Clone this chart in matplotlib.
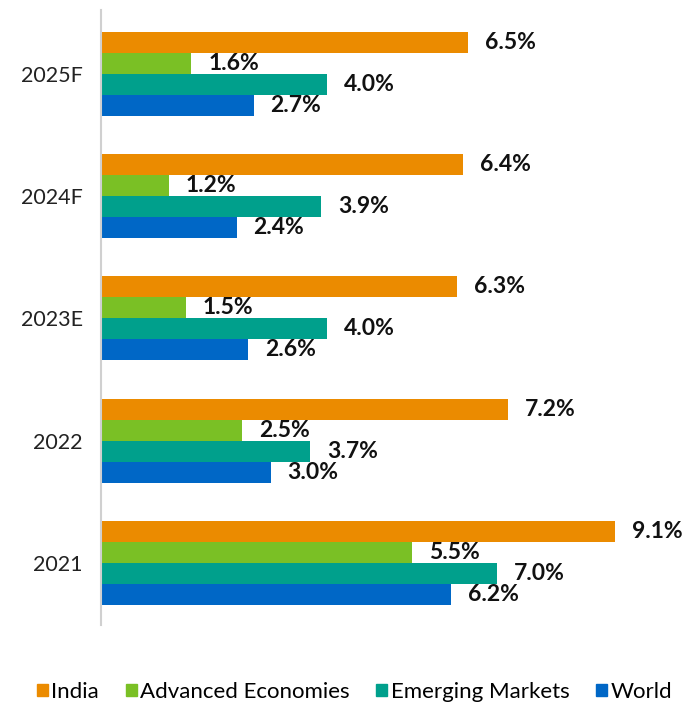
import matplotlib
matplotlib.use("Agg")
import matplotlib.pyplot as plt
import numpy as np
from matplotlib.patches import Patch

categories = ["2021", "2022", "2023E", "2024F", "2025F"]
series_names = ["India", "Advanced Economies", "Emerging Markets", "World"]
india = [9.1, 7.2, 6.3, 6.4, 6.5]
advanced = [5.5, 2.5, 1.5, 1.2, 1.6]
emerging = [7.0, 3.7, 4.0, 3.9, 4.0]
world = [6.2, 3.0, 2.6, 2.4, 2.7]
colors = ["#EB8B00", "#7AC025", "#00A08C", "#0067C6"]

plt.rcParams['font.family'] = ['Lato', 'DejaVu Sans']

fig = plt.figure(figsize=(6.95, 7.04), dpi=100)
ax = fig.add_axes([101/695, 79/704, (690-101)/695, (625-10)/704])

y = np.arange(len(categories))
h = 0.172
offsets = [1.5*h, 0.5*h, -0.5*h, -1.5*h]
for vals, off, c in zip([india, advanced, emerging, world], offsets, colors):
    ax.barh(y + off, vals, height=h, color=c)
    for yi, v in zip(y, vals):
        ax.text(v + 0.30, yi + off, f"{v:.1f}%", va='center', ha='left',
                fontsize=16.5, fontweight='bold', color='#111111')

ax.set_xlim(0, 10.42)
ax.set_ylim(-0.507, 4.52)
ax.set_yticks(y)
ax.set_yticklabels(categories, fontsize=15.5, color='#222222')
ax.tick_params(axis='y', length=0, pad=13)
ax.set_xticks([])
for s in ['top', 'right', 'bottom']:
    ax.spines[s].set_visible(False)
ax.spines['left'].set_color('#d0d0d0')
ax.spines['left'].set_linewidth(1.5)

handles = [Patch(color=c, label=n) for c, n in zip(colors, series_names)]
fig.legend(handles=handles, loc='center', bbox_to_anchor=(0.51, 1 - 692/704), ncol=4,
           frameon=False, fontsize=16, handlelength=0.5, handleheight=0.5,
           handletextpad=0.15, columnspacing=1.2)

fig.savefig("out.png", dpi=100)
